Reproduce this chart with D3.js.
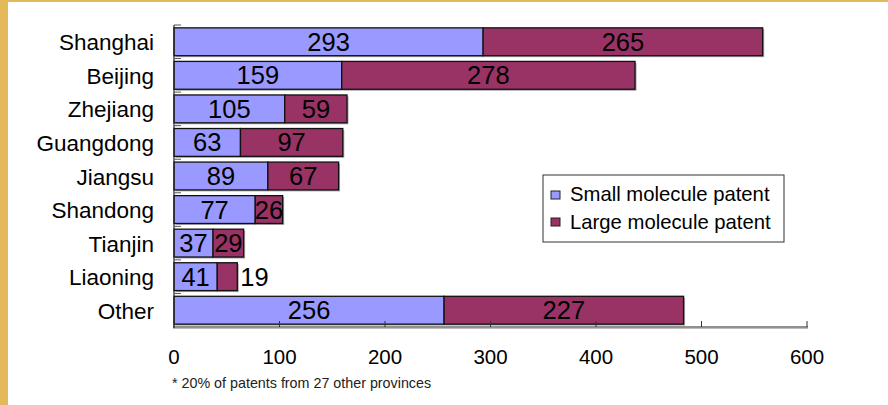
<!DOCTYPE html>
<html>
<head>
<meta charset="utf-8">
<script src="https://cdn.jsdelivr.net/npm/d3@7"></script>
<style>
  body { margin: 0; background: #fff; }
  svg { font-family: "Liberation Sans", Arial, sans-serif; }
</style>
</head>
<body>
<div id="chart"></div>
<script>
// data
const provinces = ["Shanghai", "Beijing", "Zhejiang", "Guangdong", "Jiangsu", "Shandong", "Tianjin", "Liaoning", "Other"];
const smallMolecule = [293, 159, 105, 63, 89, 77, 37, 41, 256];
const largeMolecule = [265, 278, 59, 97, 67, 26, 29, 19, 227];
const seriesNames = ["Small molecule patent", "Large molecule patent"];
const xTicks = [0, 100, 200, 300, 400, 500, 600];

const width = 888, height = 405;
const colors = ["#9999ff", "#993366"];

const svg = d3.select("#chart").append("svg")
  .attr("width", width)
  .attr("height", height);

// gold frame on the left and top
svg.append("rect").attr("x", 0).attr("y", 0).attr("width", 8).attr("height", height).attr("fill", "#e3b95a");
svg.append("rect").attr("x", 0).attr("y", 0).attr("width", width).attr("height", 2).attr("fill", "#e3b95a");

const x = d3.scaleLinear().domain([0, 600]).range([174, 807]);
const y = d3.scaleBand().domain(provinces).range([25, 327]).paddingInner(0.17).paddingOuter(0.085);

const rows = provinces.map((p, i) => ({ name: p, vals: [smallMolecule[i], largeMolecule[i]] }));
const stacked = d3.stack().keys([0, 1]).value((d, k) => d.vals[k])(rows);

// shadow
stacked.forEach((layer, k) => {
  svg.append("g").selectAll("rect")
    .data(layer)
    .enter().append("rect")
    .attr("x", d => x(d[0]) + 1.5)
    .attr("y", d => y(d.data.name) + 1.5)
    .attr("width", d => x(d[1]) - x(d[0]))
    .attr("height", y.bandwidth())
    .attr("fill", "#aaa");
});

stacked.forEach((layer, k) => {
  svg.append("g").selectAll("rect")
    .data(layer)
    .enter().append("rect")
    .attr("x", d => x(d[0]))
    .attr("y", d => y(d.data.name))
    .attr("width", d => x(d[1]) - x(d[0]))
    .attr("height", y.bandwidth())
    .attr("fill", colors[k])
    .attr("stroke", "#111")
    .attr("stroke-width", 1.3);
});

// value labels
stacked.forEach((layer, k) => {
  svg.append("g").selectAll("text")
    .data(layer)
    .enter().append("text")
    .attr("x", d => {
      const w = x(d[1]) - x(d[0]);
      return w < 24 ? x(d[1]) + 3 : (x(d[0]) + x(d[1])) / 2;
    })
    .attr("y", d => y(d.data.name) + y.bandwidth() / 2 + 9)
    .attr("text-anchor", d => (x(d[1]) - x(d[0])) < 24 ? "start" : "middle")
    .attr("font-size", 25.5)
    .attr("fill", "#000")
    .text(d => d[1] - d[0]);
});

// y axis
const yAxis = svg.append("g").attr("transform", "translate(174,0)");
yAxis.append("line").attr("x1", 0).attr("x2", 0).attr("y1", 25).attr("y2", 328)
  .attr("stroke", "#222").attr("stroke-width", 1.2);
const bounds = provinces.map(p => y(p) - y.step() * y.paddingInner() / 2);
yAxis.selectAll("line.tk").data(bounds).enter().append("line")
  .attr("class", "tk")
  .attr("x1", 0).attr("x2", 7)
  .attr("y1", d => d).attr("y2", d => d)
  .attr("stroke", "#555").attr("stroke-width", 1);
yAxis.selectAll("text").data(provinces).enter().append("text")
  .attr("x", -20)
  .attr("y", d => y(d) + y.bandwidth() / 2 + 8.5)
  .attr("text-anchor", "end")
  .attr("font-size", 22.5)
  .attr("fill", "#000")
  .text(d => d);

// x axis
const xAxis = svg.append("g");
xAxis.append("line").attr("x1", 173).attr("x2", 808).attr("y1", 328.5).attr("y2", 328.5)
  .attr("stroke", "#bbb").attr("stroke-width", 1);
xAxis.append("line").attr("x1", 173).attr("x2", 808).attr("y1", 327).attr("y2", 327)
  .attr("stroke", "#222").attr("stroke-width", 1.2);
xAxis.selectAll("line.tk").data(xTicks).enter().append("line")
  .attr("class", "tk")
  .attr("x1", d => x(d)).attr("x2", d => x(d))
  .attr("y1", 327).attr("y2", 321)
  .attr("stroke", "#333").attr("stroke-width", 1);
xAxis.selectAll("text").data(xTicks).enter().append("text")
  .attr("x", d => x(d))
  .attr("y", 363.5)
  .attr("text-anchor", "middle")
  .attr("font-size", 20.5)
  .attr("fill", "#000")
  .text(d => d);

// footnote
svg.append("text")
  .attr("x", 172).attr("y", 388)
  .attr("font-size", 14.3)
  .attr("fill", "#222")
  .text("* 20% of patents from 27 other provinces");

// legend
const legend = svg.append("g").attr("transform", "translate(543,175)");
legend.append("rect").attr("width", 241).attr("height", 67)
  .attr("fill", "#fff").attr("stroke", "#333").attr("stroke-width", 1);
seriesNames.forEach((s, i) => {
  legend.append("rect")
    .attr("x", 8).attr("y", 16 + i * 27)
    .attr("width", 9).attr("height", 8)
    .attr("fill", colors[i]).attr("stroke", "#222").attr("stroke-width", 1);
  legend.append("text")
    .attr("x", 27).attr("y", 26 + i * 28)
    .attr("font-size", 20.3)
    .attr("fill", "#000")
    .text(s);
});
</script>
</body>
</html>
